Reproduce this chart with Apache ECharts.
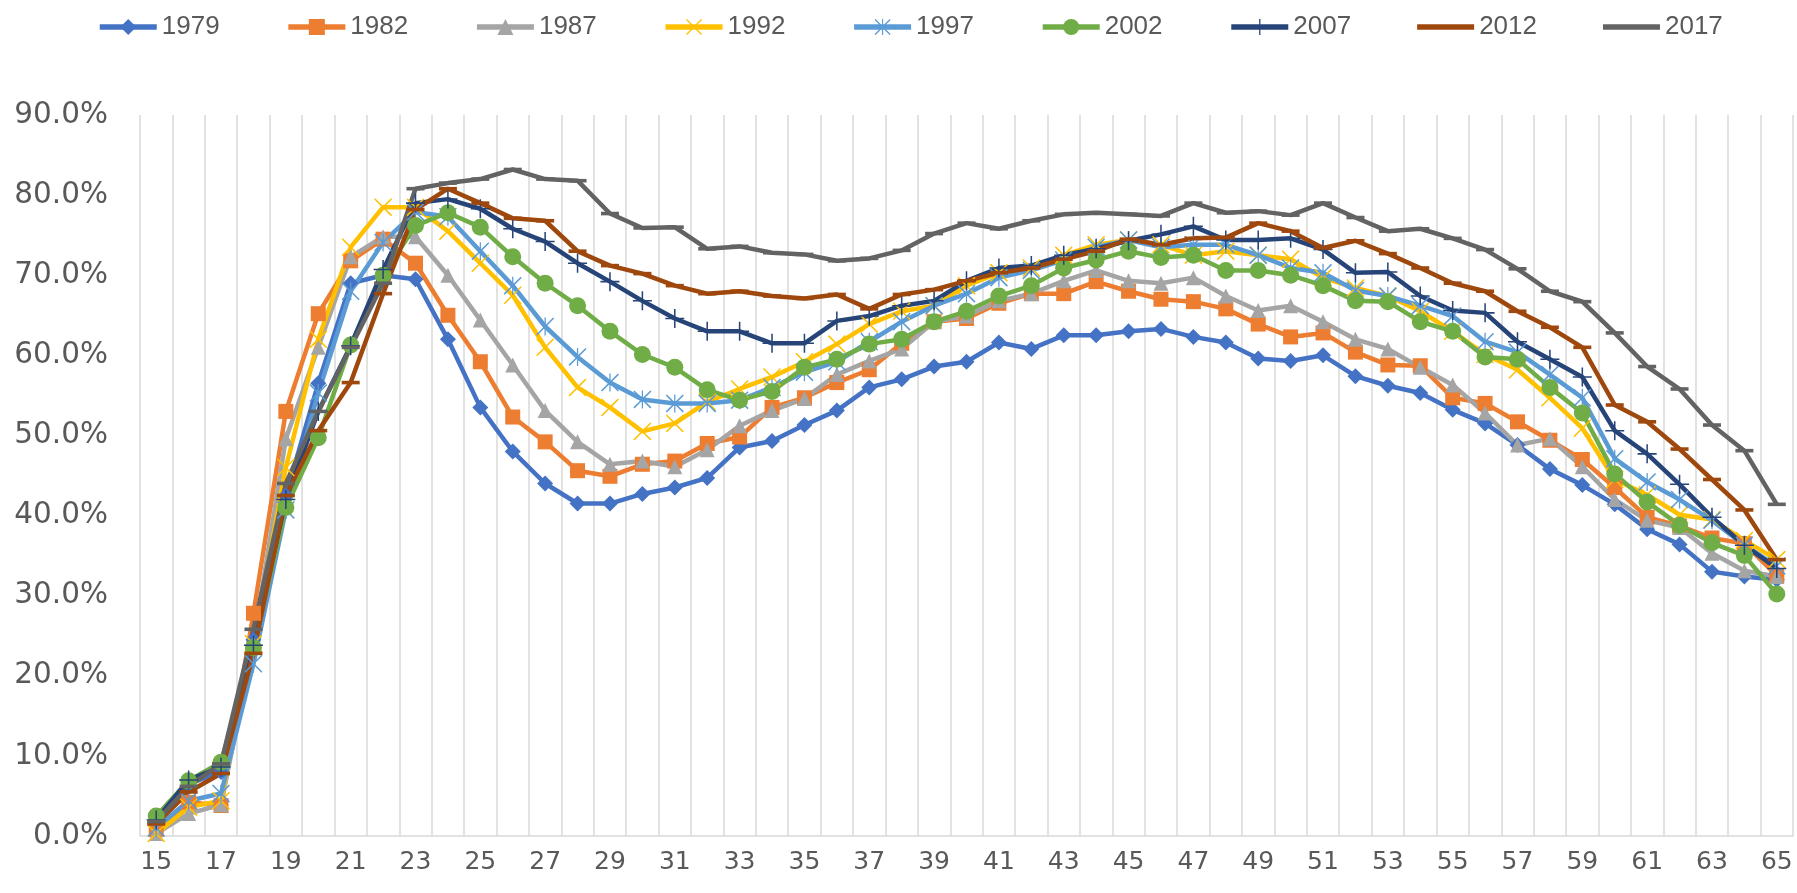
<!DOCTYPE html>
<html>
<head>
<meta charset="UTF-8">
<title>Age profile</title>
<script src="https://cdn.jsdelivr.net/npm/echarts@6/dist/echarts.min.js"></script>
<style>
  html, body { margin: 0; padding: 0; background: #fff; }
  #main { width: 1797px; height: 893px; }
</style>
</head>
<body>
<div id="main"></div>
<script type="text/javascript">
// ages 15..65
var ages = [];
for (var a = 15; a <= 65; a++) ages.push(String(a));

var yearNames = ['1979', '1982', '1987', '1992', '1997', '2002', '2007', '2012', '2017'];

var v1979 = [1.5, 6.5, 8.0, 24.5, 42.5, 56.5, 69.0, 70.0, 69.5, 62.0, 53.5, 48.0, 44.0, 41.5, 41.5, 42.7, 43.5, 44.7, 48.5, 49.3, 51.3, 53.1, 56.0, 57.0, 58.6, 59.2, 61.6, 60.8, 62.5, 62.5, 63.0, 63.3, 62.3, 61.6, 59.6, 59.3, 60.0, 57.4, 56.2, 55.3, 53.2, 51.5, 48.8, 45.8, 43.8, 41.4, 38.3, 36.4, 33.0, 32.4, 32.0];
var v1982 = [0.8, 4.2, 3.8, 27.8, 53.0, 65.2, 71.8, 74.5, 71.5, 65.0, 59.2, 52.3, 49.2, 45.6, 44.9, 46.4, 46.8, 49.0, 49.8, 53.5, 54.7, 56.6, 58.2, 61.5, 64.2, 64.6, 66.5, 67.7, 67.7, 69.2, 68.0, 67.0, 66.7, 65.8, 63.9, 62.3, 62.8, 60.4, 58.8, 58.7, 54.7, 54.0, 51.7, 49.4, 47.0, 43.5, 39.8, 38.7, 37.2, 36.5, 32.5];
var v1987 = [0.3, 2.8, 3.9, 24.0, 49.6, 61.0, 72.3, 74.8, 74.8, 70.0, 64.4, 58.8, 53.1, 49.2, 46.4, 46.8, 46.1, 48.2, 51.2, 53.1, 54.6, 57.6, 59.3, 60.8, 64.2, 64.9, 66.8, 67.7, 69.3, 70.6, 69.3, 69.0, 69.7, 67.4, 65.6, 66.2, 64.2, 62.0, 60.8, 58.5, 56.3, 52.8, 48.8, 49.6, 46.1, 42.0, 39.4, 38.5, 35.3, 33.1, 32.4];
var v1992 = [0.3, 3.6, 4.4, 24.0, 46.0, 62.0, 73.5, 78.5, 78.5, 75.5, 71.5, 67.5, 61.0, 56.0, 53.5, 50.5, 51.5, 54.2, 55.8, 57.3, 59.2, 61.4, 63.9, 65.5, 66.2, 68.7, 70.3, 70.9, 72.5, 73.8, 74.4, 73.8, 72.5, 73.0, 72.5, 72.0, 69.7, 68.4, 67.4, 65.5, 63.0, 60.1, 58.2, 54.7, 50.9, 44.5, 42.6, 40.1, 39.5, 36.9, 34.5];
var v1997 = [1.0, 4.4, 5.3, 21.5, 40.7, 55.3, 68.0, 74.1, 77.9, 77.3, 73.0, 68.7, 63.6, 59.8, 56.6, 54.5, 54.0, 54.0, 54.4, 56.0, 57.9, 59.2, 61.7, 64.2, 66.2, 67.7, 69.7, 70.6, 71.9, 73.5, 74.4, 73.5, 73.8, 73.8, 72.5, 70.9, 70.3, 68.1, 67.4, 66.2, 64.9, 61.7, 60.4, 57.6, 54.7, 47.1, 44.2, 42.0, 39.4, 36.3, 33.7];
var v2002 = [2.5, 6.9, 9.2, 23.5, 41.0, 49.7, 61.3, 70.0, 76.2, 77.8, 76.0, 72.3, 69.0, 66.2, 63.0, 60.1, 58.5, 55.7, 54.4, 55.5, 58.5, 59.5, 61.4, 62.0, 64.2, 65.5, 67.4, 68.7, 70.9, 71.9, 73.0, 72.2, 72.5, 70.6, 70.6, 70.0, 68.7, 66.8, 66.7, 64.2, 63.0, 59.8, 59.5, 56.0, 52.8, 45.2, 41.7, 38.8, 36.6, 35.0, 30.2];
var v2007 = [2.0, 7.0, 8.6, 23.8, 42.0, 53.0, 61.2, 70.7, 79.0, 79.5, 78.3, 75.8, 74.2, 71.5, 69.2, 66.8, 64.6, 63.0, 63.0, 61.5, 61.5, 64.3, 64.9, 66.2, 66.8, 69.3, 70.9, 71.2, 72.5, 73.3, 74.3, 75.1, 76.1, 74.4, 74.4, 74.6, 73.2, 70.3, 70.4, 67.4, 65.6, 65.3, 61.7, 59.5, 57.3, 50.6, 47.7, 43.9, 39.8, 36.3, 33.4];
var v2012 = [1.5, 5.5, 7.8, 22.8, 42.5, 50.6, 56.6, 67.7, 78.2, 80.8, 79.0, 77.1, 76.8, 73.0, 71.2, 70.2, 68.7, 67.7, 68.0, 67.4, 67.1, 67.6, 65.8, 67.6, 68.2, 69.3, 70.3, 70.9, 72.0, 73.0, 74.5, 73.8, 74.6, 74.7, 76.5, 75.5, 73.4, 74.3, 72.7, 70.9, 69.0, 68.0, 65.5, 63.5, 61.0, 53.8, 51.7, 48.3, 44.5, 40.7, 34.5];
var v2017 = [1.8, 6.2, 9.0, 25.8, 44.0, 53.0, 61.0, 69.0, 80.8, 81.5, 82.0, 83.2, 82.0, 81.8, 77.7, 75.9, 76.0, 73.3, 73.6, 72.8, 72.6, 71.8, 72.1, 73.1, 75.2, 76.5, 75.8, 76.8, 77.6, 77.8, 77.6, 77.4, 79.0, 77.8, 78.0, 77.5, 79.0, 77.2, 75.5, 75.8, 74.6, 73.2, 70.8, 68.0, 66.7, 62.8, 58.6, 55.8, 51.3, 48.1, 41.4];

var yTicks = { min: 0, max: 90, step: 10 };

// marker shapes (excel style)
var pathX = 'path://M0,1.2 L1.2,0 L10,8.8 L18.8,0 L20,1.2 L11.2,10 L20,18.8 L18.8,20 L10,11.2 L1.2,20 L0,18.8 L8.8,10 Z';
var pathStar = 'path://M0,1.2 L1.2,0 L10,8.8 L18.8,0 L20,1.2 L11.2,10 L20,18.8 L18.8,20 L10,11.2 L1.2,20 L0,18.8 L8.8,10 Z M9.3,0 L10.7,0 L10.7,20 L9.3,20 Z';
var pathPlus = 'path://M9.2,0 L10.8,0 L10.8,9.2 L20,9.2 L20,10.8 L10.8,10.8 L10.8,20 L9.2,20 L9.2,10.8 L0,10.8 L0,9.2 L9.2,9.2 Z';
var pathDash = 'path://M0,0 L10,0 L10,2 L0,2 Z';
var pathLegendBar = 'path://M0,0 L57,0 L57,5.5 L0,5.5 Z';

var styles = [
  { color: '#4472C4', symbol: 'diamond', size: 16 },
  { color: '#ED7D31', symbol: 'rect', size: 15 },
  { color: '#A5A5A5', symbol: 'triangle', size: 15 },
  { color: '#FFC000', symbol: pathX, size: 18 },
  { color: '#5B9BD5', symbol: pathStar, size: 18 },
  { color: '#70AD47', symbol: 'circle', size: 17 },
  { color: '#264478', symbol: pathPlus, size: 19 },
  { color: '#9E480E', symbol: pathDash, size: 18, keep: true },
  { color: '#636363', symbol: pathDash, size: 18, keep: true }
];
var allValues = [v1979, v1982, v1987, v1992, v1997, v2002, v2007, v2012, v2017];

var series = yearNames.map(function(name, i) {
  return {
    name: name,
    type: 'line',
    data: allValues[i],
    symbol: styles[i].symbol,
    symbolSize: styles[i].size,
    symbolKeepAspect: !!styles[i].keep,
    showAllSymbol: true,
    lineStyle: { color: styles[i].color, width: 4.5 },
    itemStyle: { color: styles[i].color },
    emphasis: { disabled: true }
  };
});

// dash-marker series show just a thick bar in the legend
var legendData = yearNames.map(function(name, i) {
  return styles[i].keep ? { name: name, icon: pathLegendBar } : { name: name };
});

var myChart = echarts.init(document.getElementById('main'));
myChart.setOption({
  backgroundColor: '#ffffff',
  animation: false,
  legend: {
    top: 9,
    left: 92,
    itemWidth: 57,
    itemHeight: 20,
    itemGap: 66,
    symbolKeepAspect: true,
    lineStyle: { width: 5.5 },
    textStyle: {
      color: '#595959',
      fontSize: 26,
      fontFamily: '"Liberation Sans", sans-serif'
    },
    data: legendData
  },
  grid: {
    left: 140,
    right: 4,
    top: 115,
    bottom: 57
  },
  xAxis: {
    type: 'category',
    data: ages,
    boundaryGap: true,
    axisLine: { lineStyle: { color: '#D9D9D9', width: 1.5 } },
    axisTick: { show: false },
    axisLabel: {
      interval: 1,
      margin: 14,
      color: '#595959',
      fontSize: 25,
      fontFamily: '"DejaVu Sans", sans-serif'
    },
    splitLine: {
      show: true,
      interval: 0,
      lineStyle: { color: '#D9D9D9', width: 1.5 }
    }
  },
  yAxis: {
    type: 'value',
    min: yTicks.min,
    max: yTicks.max,
    interval: yTicks.step,
    axisLine: { show: false },
    axisTick: { show: false },
    splitLine: { show: false },
    axisLabel: {
      margin: 32,
      color: '#595959',
      fontSize: 29.5,
      fontFamily: '"DejaVu Sans", sans-serif',
      formatter: function(v) { return v.toFixed(1) + '%'; }
    }
  },
  series: series
});
</script>
</body>
</html>
